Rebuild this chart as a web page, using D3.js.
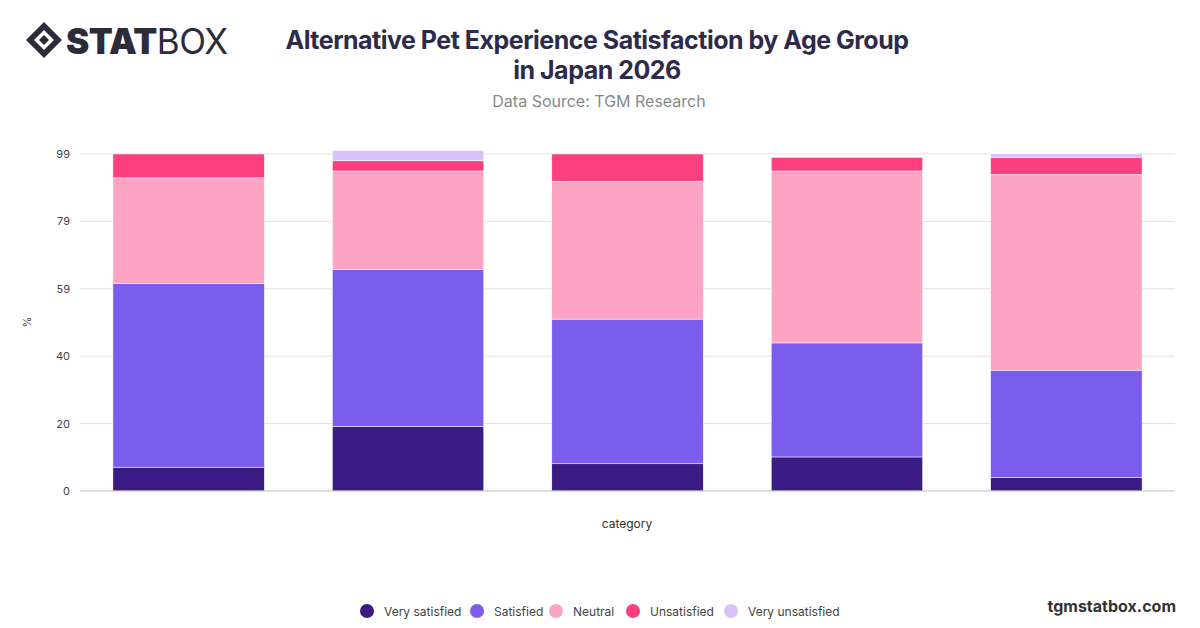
<!DOCTYPE html>
<html>
<head>
<meta charset="utf-8">
<script src="https://cdn.jsdelivr.net/npm/d3@7"></script>
<style>
  body { margin: 0; background: #fff; font-family: Inter, "Noto Sans", sans-serif; }
</style>
</head>
<body>
<svg id="chart" width="1200" height="628"></svg>
<script>
// chart data
const categories = ['18-24', '25-34', '35-44', '45-54', '55+'];
const seriesNames = ['Very satisfied', 'Satisfied', 'Neutral', 'Unsatisfied', 'Very unsatisfied'];
const verySatisfied = [7, 19, 8, 10, 4];
const satisfied = [54, 46, 42.5, 33.5, 31.5];
const neutral = [31, 29, 40.5, 50.5, 57.5];
const unsatisfied = [7, 3, 8, 4, 5];
const veryUnsatisfied = [0, 3, 0, 0, 1];
const tickValues = [0, 19.8, 39.6, 59.4, 79.2, 99];
const colors = ['#3a1c84', '#7b5cec', '#fda4c4', '#fd3f7f', '#d8c0f8'];

const svg = d3.select('#chart');
const margin = { left: 80, right: 1175, top: 154, bottom: 491 };

// build rows for stacking
const rows = categories.map((c, i) => ({
    category: c,
    'Very satisfied': verySatisfied[i],
    'Satisfied': satisfied[i],
    'Neutral': neutral[i],
    'Unsatisfied': unsatisfied[i],
    'Very unsatisfied': veryUnsatisfied[i]
}));
const stacked = d3.stack().keys(seriesNames)(rows);

const x = d3.scaleBand().domain(categories).range([margin.left, margin.right]).paddingInner(0.31).paddingOuter(0.15);
const y = d3.scaleLinear().domain([0, 99]).range([margin.bottom, margin.top]);

// grid
svg.append('g').selectAll('line').data(tickValues).enter().append('line')
    .attr('x1', margin.left).attr('x2', margin.right)
    .attr('y1', d => y(d)).attr('y2', d => y(d))
    .attr('stroke', '#e2e2e2').attr('stroke-width', 1);

// y axis labels
svg.append('g').selectAll('text').data(tickValues).enter().append('text')
    .attr('x', 70).attr('y', d => y(d) + 4)
    .attr('text-anchor', 'end').attr('font-size', 11).attr('fill', '#444')
    .text(d => Math.round(d));

svg.append('text').attr('transform', 'translate(31,322) rotate(-90)')
    .attr('text-anchor', 'middle').attr('font-size', 11).attr('fill', '#444').text('%');

svg.append('text').attr('x', 627).attr('y', 528).attr('text-anchor', 'middle')
    .attr('font-size', 12).attr('fill', '#333').text('category');

// bars
svg.append('g').selectAll('g').data(stacked).enter().append('g')
    .attr('fill', (d, i) => colors[i])
    .selectAll('rect').data(d => d).enter().append('rect')
    .attr('x', d => x(d.data.category))
    .attr('width', x.bandwidth())
    .attr('y', d => y(d[1]))
    .attr('height', d => y(d[0]) - y(d[1]))
    .attr('stroke', '#fff').attr('stroke-width', 0.5);

// baseline
svg.append('line').attr('x1', margin.left).attr('x2', margin.right)
    .attr('y1', y(0)).attr('y2', y(0)).attr('stroke', '#ccc');

// title
svg.append('text').attr('x', 597).attr('y', 49).attr('text-anchor', 'middle')
    .attr('font-size', 25).attr('font-weight', 700).attr('fill', '#2d2a4a')
    .attr('letter-spacing', -0.5).text('Alternative Pet Experience Satisfaction by Age Group');
svg.append('text').attr('x', 597).attr('y', 79).attr('text-anchor', 'middle')
    .attr('font-size', 25).attr('font-weight', 700).attr('fill', '#2d2a4a')
    .attr('letter-spacing', -0.5).text('in Japan 2026');
svg.append('text').attr('x', 599).attr('y', 107).attr('text-anchor', 'middle')
    .attr('font-size', 16).attr('fill', '#888').text('Data Source: TGM Research');

// logo
const logo = svg.append('g').attr('transform', 'translate(26,22)');
logo.append('path').attr('d', 'M18,0 L36,18 L18,36 L0,18 Z').attr('fill', '#2d2a3a');
logo.append('path').attr('d', 'M18,8 L28,18 L18,28 L8,18 Z').attr('fill', '#fff');
logo.append('path').attr('d', 'M18,13 L23,18 L18,23 L13,18 Z').attr('fill', '#2d2a3a');
logo.append('text').attr('x', 40).attr('y', 32).attr('font-size', 35).attr('font-weight', 900)
    .attr('fill', '#2d2a3a').attr('letter-spacing', -0.5).text('STAT')
    .append('tspan').attr('font-weight', 400).text('BOX');

// legend
const legendX = [367, 477, 556, 633, 731];
const legend = svg.append('g').selectAll('g').data(seriesNames).enter().append('g')
    .attr('transform', (d, i) => `translate(${legendX[i]},611)`);
legend.append('circle').attr('r', 7).attr('fill', (d, i) => colors[i]);
legend.append('text').attr('x', 17).attr('y', 5).attr('font-size', 12).attr('fill', '#444').text(d => d);

svg.append('text').attr('x', 1176).attr('y', 612).attr('text-anchor', 'end')
    .attr('font-size', 16).attr('font-weight', 700).attr('fill', '#333').text('tgmstatbox.com');
</script>
</body>
</html>
